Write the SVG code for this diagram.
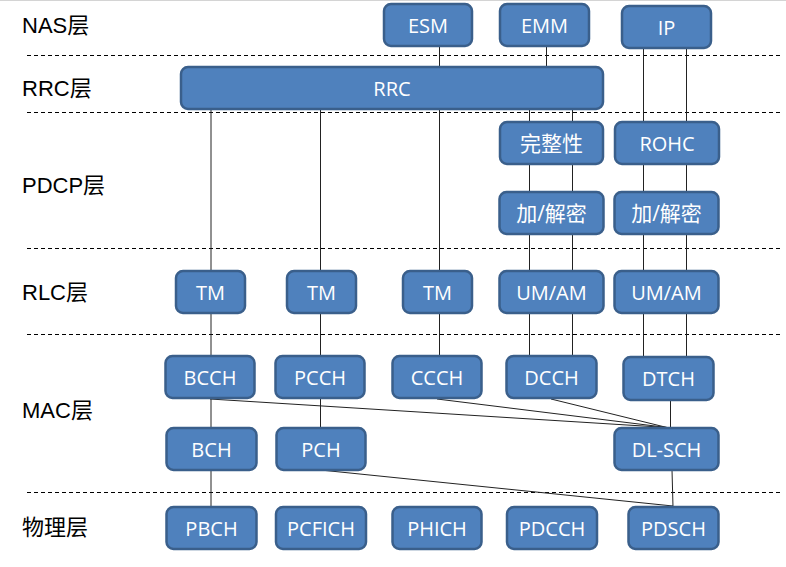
<svg xmlns="http://www.w3.org/2000/svg" width="786" height="567" viewBox="0 0 786 567">
<style>
.box{fill:#4F81BD;stroke:#3A5F8B;stroke-width:2.5}
.t{fill:#fff;font-family:"Open Sans","Noto Sans CJK SC",sans-serif;font-size:20px;text-anchor:middle;dominant-baseline:central}
.c{font-size:21px}
.lbl{fill:#000;font-family:"Liberation Sans","Noto Sans CJK SC",sans-serif;font-size:22px;dominant-baseline:central}
.dash{stroke:#000;stroke-width:1;stroke-dasharray:4 3;fill:none}
.ln{stroke:#222;stroke-width:1;fill:none}
</style>
<rect width="786" height="567" fill="#fff"/>
<line x1="0" y1="0.5" x2="786" y2="0.5" stroke="#d4d4d4" stroke-width="1"/>
<g id="layers">
<line class="dash" x1="27" y1="55.5" x2="780" y2="55.5"/>
<line class="dash" x1="27" y1="112.5" x2="780" y2="112.5"/>
<line class="dash" x1="27" y1="248.5" x2="780" y2="248.5"/>
<line class="dash" x1="27" y1="334.5" x2="780" y2="334.5"/>
<line class="dash" x1="27" y1="492.5" x2="780" y2="492.5"/>
<text class="lbl" x="22" y="25">NAS层</text>
<text class="lbl" x="22" y="88">RRC层</text>
<text class="lbl" x="22" y="185">PDCP层</text>
<text class="lbl" x="22" y="292">RLC层</text>
<text class="lbl" x="22" y="410">MAC层</text>
<text class="lbl" x="22" y="527">物理层</text>
</g>
<g id="connectors">
<line class="ln" x1="439.5" y1="46" x2="439.5" y2="67"/>
<line class="ln" x1="546.5" y1="46" x2="546.5" y2="67"/>
<line class="ln" x1="643.5" y1="48" x2="643.5" y2="357"/>
<line class="ln" x1="686.5" y1="48" x2="686.5" y2="357"/>
<line class="ln" x1="529.5" y1="109" x2="529.5" y2="356"/>
<line class="ln" x1="572.5" y1="109" x2="572.5" y2="356"/>
<line class="ln" x1="211" y1="109" x2="211" y2="507"/>
<line class="ln" x1="320.5" y1="109" x2="320.5" y2="428"/>
<line class="ln" x1="439.5" y1="109" x2="439.5" y2="356"/>
<line class="ln" x1="210" y1="399" x2="667" y2="427.5"/>
<line class="ln" x1="437" y1="399" x2="667" y2="427.5"/>
<line class="ln" x1="551" y1="399" x2="667" y2="427.5"/>
<line class="ln" x1="670.5" y1="400" x2="670.5" y2="428"/>
<line class="ln" x1="320.5" y1="470" x2="673" y2="506"/>
<line class="ln" x1="672" y1="470" x2="673" y2="507"/>
</g>
<g id="ESM"><rect class="box" x="384" y="4" width="88" height="42" rx="7"/><text class="t" x="428" y="25">ESM</text></g>
<g id="EMM"><rect class="box" x="500" y="4" width="89" height="42" rx="7"/><text class="t" x="544.5" y="25">EMM</text></g>
<g id="IP"><rect class="box" x="622" y="6" width="89" height="42" rx="7"/><text class="t" x="666.5" y="27">IP</text></g>
<g id="RRC"><rect class="box" x="181" y="67" width="422" height="42" rx="7"/><text class="t" x="392" y="88">RRC</text></g>
<g id="integrity"><rect class="box" x="500" y="122" width="103" height="42" rx="7"/><text class="t c" x="551.5" y="143">完整性</text></g>
<g id="ROHC"><rect class="box" x="615" y="122" width="104" height="42" rx="7"/><text class="t" x="667" y="143">ROHC</text></g>
<g id="cipher1"><rect class="box" x="499.5" y="192" width="104" height="42" rx="7"/><text class="t c" x="551.5" y="213">加/解密</text></g>
<g id="cipher2"><rect class="box" x="614.5" y="192" width="104" height="42" rx="7"/><text class="t c" x="666.5" y="213">加/解密</text></g>
<g id="TM1"><rect class="box" x="176" y="271" width="69" height="42" rx="7"/><text class="t" x="210.5" y="292">TM</text></g>
<g id="TM2"><rect class="box" x="287" y="271" width="69" height="42" rx="7"/><text class="t" x="321.5" y="292">TM</text></g>
<g id="TM3"><rect class="box" x="403" y="271" width="69" height="42" rx="7"/><text class="t" x="437.5" y="292">TM</text></g>
<g id="UMAM1"><rect class="box" x="499.5" y="271" width="104" height="42" rx="7"/><text class="t" x="551.5" y="292">UM/AM</text></g>
<g id="UMAM2"><rect class="box" x="614.5" y="271" width="104" height="42" rx="7"/><text class="t" x="666.5" y="292">UM/AM</text></g>
<g id="BCCH"><rect class="box" x="165.5" y="356" width="89" height="42" rx="7"/><text class="t" x="210" y="377">BCCH</text></g>
<g id="PCCH"><rect class="box" x="275.5" y="356" width="89" height="42" rx="7"/><text class="t" x="320" y="377">PCCH</text></g>
<g id="CCCH"><rect class="box" x="392.5" y="356" width="89" height="42" rx="7"/><text class="t" x="437" y="377">CCCH</text></g>
<g id="DCCH"><rect class="box" x="506.5" y="356" width="90" height="42" rx="7"/><text class="t" x="551.5" y="377">DCCH</text></g>
<g id="DTCH"><rect class="box" x="623.5" y="357" width="90" height="43" rx="7"/><text class="t" x="668.5" y="378.5">DTCH</text></g>
<g id="BCH"><rect class="box" x="166.5" y="428" width="90" height="42" rx="7"/><text class="t" x="211.5" y="449">BCH</text></g>
<g id="PCH"><rect class="box" x="276.5" y="428" width="89" height="42" rx="7"/><text class="t" x="321" y="449">PCH</text></g>
<g id="DLSCH"><rect class="box" x="614.5" y="428" width="104" height="42" rx="7"/><text class="t" x="666.5" y="449">DL-SCH</text></g>
<g id="PBCH"><rect class="box" x="166.5" y="507" width="90" height="42" rx="7"/><text class="t" x="211.5" y="528">PBCH</text></g>
<g id="PCFICH"><rect class="box" x="276" y="507" width="90" height="42" rx="7"/><text class="t" x="321" y="528">PCFICH</text></g>
<g id="PHICH"><rect class="box" x="392.5" y="507" width="89" height="42" rx="7"/><text class="t" x="437" y="528">PHICH</text></g>
<g id="PDCCH"><rect class="box" x="507" y="507" width="90" height="42" rx="7"/><text class="t" x="552" y="528">PDCCH</text></g>
<g id="PDSCH"><rect class="box" x="628.5" y="507" width="90" height="42" rx="7"/><text class="t" x="673.5" y="528">PDSCH</text></g>
</svg>
